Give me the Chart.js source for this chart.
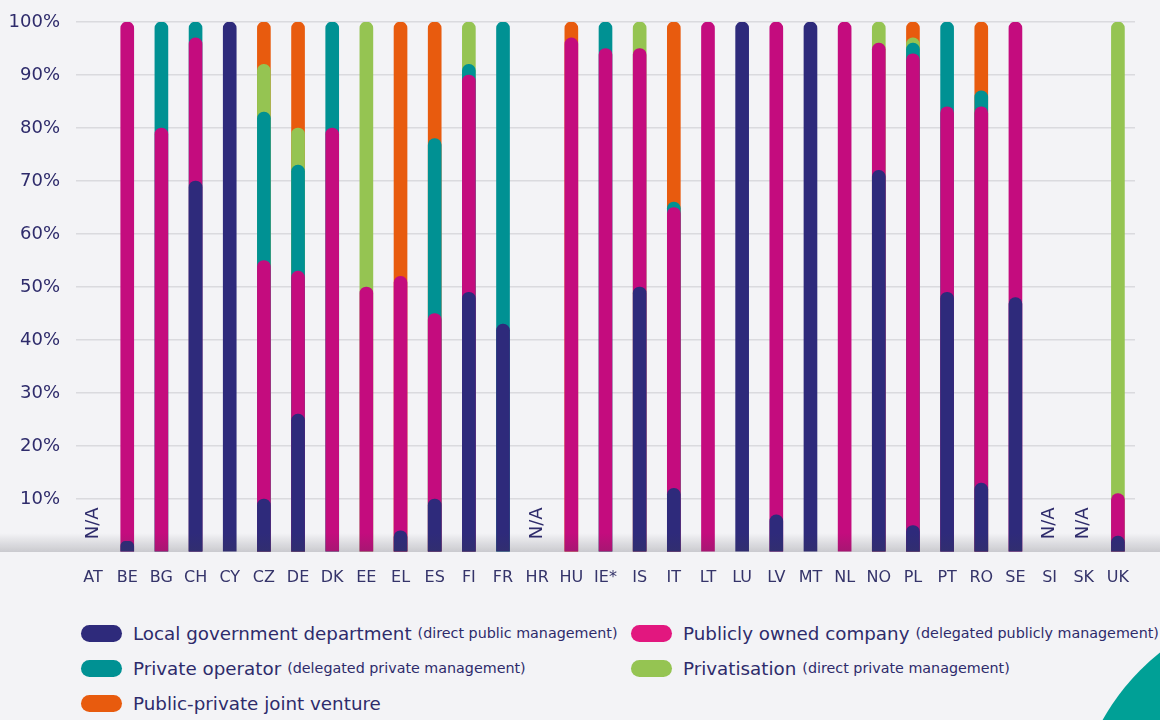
<!DOCTYPE html>
<html>
<head>
<meta charset="utf-8">
<script src="https://cdn.jsdelivr.net/npm/chart.js@4.4.1/dist/chart.umd.min.js"></script>
<style>
  html, body { margin: 0; padding: 0; }
  body {
    width: 1160px; height: 720px; overflow: hidden; position: relative;
    background: #f3f3f6; font-family: "DejaVu Sans", Verdana, sans-serif; color: #2e2b6b;
  }
  #wrap { position: absolute; left: 0; top: 0; width: 1160px; height: 600px; }
  .blob { position: absolute; left: 1074px; top: 604px; width: 452px; height: 452px; border-radius: 50%; background: #00a096; }
  .item { position: absolute; display: flex; align-items: center; height: 24px; white-space: nowrap; }
  .pill { width: 41px; height: 17px; border-radius: 9px; margin-right: 11px; }
  .main { font-size: 18.3px; }
  .sub { font-size: 14.3px; margin-left: 6px; }
</style>
</head>
<body>
<div id="wrap"><canvas id="mgmt"></canvas></div>
<div class="blob"></div>
<div id="legend"></div>
<script>
// Management model of services per country (shares, %)
var countries = ["AT", "BE", "BG", "CH", "CY", "CZ", "DE", "DK", "EE", "EL", "ES", "FI", "FR", "HR", "HU", "IE*",
    "IS", "IT", "LT", "LU", "LV", "MT", "NL", "NO", "PL", "PT", "RO", "SE", "SI", "SK", "UK"];
var notAvailable = ["AT", "HR", "SI", "SK"];

var localGov = [null, 2, 0, 70, 100, 10, 26, 0, 0, 4, 10, 49, 43, null, 0, 0,
    50, 12, 0, 100, 7, 100, 0, 72, 5, 49, 13, 48, null, null, 3];
var publicCompany = [null, 98, 80, 27, 0, 45, 27, 80, 50, 48, 35, 41, 0, null, 97, 95,
    45, 53, 100, 0, 93, 0, 100, 24, 89, 35, 71, 52, null, null, 8];
var privateOperator = [null, 0, 20, 3, 0, 28, 20, 20, 0, 0, 33, 2, 57, null, 0, 5,
    0, 1, 0, 0, 0, 0, 0, 0, 2, 16, 3, 0, null, null, 0];
var privatisation = [null, 0, 0, 0, 0, 9, 7, 0, 50, 0, 0, 8, 0, null, 0, 0,
    5, 0, 0, 0, 0, 0, 0, 4, 1, 0, 0, 0, null, null, 89];
var jointVenture = [null, 0, 0, 0, 0, 8, 20, 0, 0, 48, 22, 0, 0, null, 3, 0,
    0, 34, 0, 0, 0, 0, 0, 0, 3, 0, 13, 0, null, null, 0];

var yTicks = [10, 20, 30, 40, 50, 60, 70, 80, 90, 100];

var series = [
    { main: "Local government department", sub: "(direct public management)", values: localGov, color: "#2e2a7b", key: "#2e2a7b" },
    { main: "Publicly owned company", sub: "(delegated publicly management)", values: publicCompany, color: "#c40c7e", key: "#e2177f" },
    { main: "Private operator", sub: "(delegated private management)", values: privateOperator, color: "#009193", key: "#009193" },
    { main: "Privatisation", sub: "(direct private management)", values: privatisation, color: "#95c452", key: "#95c452" },
    { main: "Public-private joint venture", sub: "", values: jointVenture, color: "#e85b0e", key: "#e85b0e" }
];

// each bar is drawn from 0 to its running total, lower segments painted over upper ones
var running = countries.map(function () { return 0; });
var datasets = series.map(function (s) {
    var data = s.values.map(function (v, i) {
        if (v === null) return null;
        running[i] += v;
        return v === 0 ? null : running[i];
    });
    return {
        label: s.main,
        data: data,
        backgroundColor: s.color,
        borderWidth: 0,
        borderRadius: 7,
        barThickness: 13,
        grouped: false
    };
});

var bottomShade = {
    id: "bottomShade",
    afterDatasetsDraw: function (chart) {
        var ctx = chart.ctx, b = chart.chartArea.bottom;
        var g = ctx.createLinearGradient(0, b - 19, 0, b);
        g.addColorStop(0, "rgba(60,60,70,0)");
        g.addColorStop(1, "rgba(60,60,70,0.22)");
        ctx.save();
        ctx.fillStyle = g;
        ctx.fillRect(0, b - 19, chart.width, 19);
        ctx.restore();
    }
};

var naLabels = {
    id: "naLabels",
    afterDraw: function (chart) {
        var ctx = chart.ctx, xs = chart.scales.x, ys = chart.scales.y;
        ctx.save();
        ctx.fillStyle = "#2e2b6b";
        ctx.font = "18px 'DejaVu Sans'";
        ctx.textAlign = "left";
        ctx.textBaseline = "middle";
        notAvailable.forEach(function (c) {
            var x = xs.getPixelForValue(countries.indexOf(c));
            ctx.save();
            ctx.translate(x, ys.getPixelForValue(2.4));
            ctx.rotate(-Math.PI / 2);
            ctx.fillText("N/A", 0, 0);
            ctx.restore();
        });
        ctx.restore();
    }
};

document.addEventListener("DOMContentLoaded", () => {
    var ctx = document.getElementById("mgmt").getContext("2d");

    new Chart(ctx, {
        type: "bar",
        data: { labels: countries, datasets: datasets },
        options: {
            responsive: true,
            maintainAspectRatio: false,
            animation: false,
            layout: { padding: { top: 22, right: 25, left: 0, bottom: 0 } },
            plugins: {
                legend: { display: false },
                tooltip: { enabled: false }
            },
            scales: {
                x: {
                    grid: { display: false },
                    border: { display: false },
                    ticks: {
                        padding: 8,
                        color: "#35346a",
                        font: { family: "DejaVu Sans", size: 16 },
                        maxRotation: 0,
                        autoSkip: false
                    },
                    afterFit: function (axis) { axis.height = 48; }
                },
                y: {
                    min: 0,
                    max: 100,
                    afterBuildTicks: function (axis) {
                        axis.ticks = [{ value: 0 }].concat(yTicks.map(function (v) { return { value: v }; }));
                    },
                    grid: {
                        drawTicks: false,
                        lineWidth: 1.5,
                        color: function (c) { return c.tick && c.tick.value === 0 ? "rgba(0,0,0,0)" : "#dadade"; }
                    },
                    border: { display: false },
                    ticks: {
                        padding: 16,
                        color: "#2e2b6b",
                        font: { family: "DejaVu Sans", size: 18 },
                        callback: function (v) { return v === 0 ? "" : v + "%"; }
                    },
                    afterFit: function (axis) {
                        axis.width = 76;
                        axis.paddingTop = 11;
                        axis.paddingBottom = 11;
                    }
                }
            }
        },
        plugins: [bottomShade, naLabels]
    });

    // legend with two text sizes
    var spots = [[81, 621], [631, 621], [81, 656], [631, 656], [81, 691]];
    var legend = document.getElementById("legend");
    series.forEach(function (s, i) {
        var item = document.createElement("div");
        item.className = "item";
        item.style.left = spots[i][0] + "px";
        item.style.top = spots[i][1] + "px";
        item.innerHTML = '<span class="pill" style="background:' + s.key + '"></span>' +
            '<span class="main">' + s.main + '</span>' +
            (s.sub ? '<span class="sub">' + s.sub + '</span>' : "");
        legend.appendChild(item);
    });
});
</script>
</body>
</html>
